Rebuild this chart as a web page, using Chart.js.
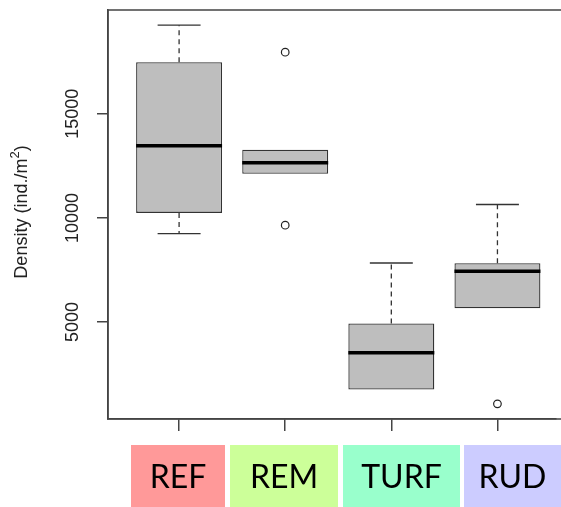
<!DOCTYPE html>
<html><head><meta charset="utf-8">
<script src="https://cdn.jsdelivr.net/npm/chart.js@4"></script>
<style>html,body{margin:0;padding:0;background:#fff;}#wrap{width:561px;height:507px;}</style>
</head><body><div id="wrap"><canvas id="c" width="561" height="507"></canvas></div>
<script>
const categories = ['REF', 'REM', 'TURF', 'RUD'];
const labelColors = ['#FF9999', '#CCFF99', '#99FFCC', '#CCCCFF'];
const whiskerLow = [9250, 12115, 1764, 5659];
const q1 = [10240, 12115, 1764, 5659];
const median = [13462, 12644, 3529, 7438];
const q3 = [17471, 13269, 4938, 7822];
const whiskerHigh = [19250, 13269, 7837, 10644];
const outliers = [[], [17952, 9649], [], [1077]];
const yTicks = [5000, 10000, 15000];
const yMin = 350, yMax = 19977;
const yTitleParts = ['Density (ind./m', '2', ')'];

const boxData = categories.map((c, i) => ({x: i + 1, y: [q1[i], q3[i]]}));
const outlierData = [];
outliers.forEach((arr, i) => arr.forEach(v => outlierData.push({x: i + 1, y: v})));

const AXIS = '#444';
const decor = {
  id: 'decor',
  afterDatasetsDraw(chart) {
    const ctx = chart.ctx, xs = chart.scales.x, ys = chart.scales.y;
    const boxMeta = chart.getDatasetMeta(0);
    ctx.save();
    categories.forEach((c, i) => {
      const bar = boxMeta.data[i];
      const cx = xs.getPixelForValue(i + 1);
      const half = bar.width / 2;
      ctx.strokeStyle = '#333'; ctx.lineWidth = 1.3;
      ctx.setLineDash([5, 4]);
      ctx.beginPath();
      if (whiskerHigh[i] > q3[i]) { ctx.moveTo(cx, ys.getPixelForValue(q3[i])); ctx.lineTo(cx, ys.getPixelForValue(whiskerHigh[i])); }
      if (whiskerLow[i] < q1[i]) { ctx.moveTo(cx, ys.getPixelForValue(q1[i])); ctx.lineTo(cx, ys.getPixelForValue(whiskerLow[i])); }
      ctx.stroke();
      ctx.setLineDash([]);
      ctx.beginPath();
      if (whiskerHigh[i] > q3[i]) { const y = ys.getPixelForValue(whiskerHigh[i]); ctx.moveTo(cx - half / 2, y); ctx.lineTo(cx + half / 2, y); }
      if (whiskerLow[i] < q1[i]) { const y = ys.getPixelForValue(whiskerLow[i]); ctx.moveTo(cx - half / 2, y); ctx.lineTo(cx + half / 2, y); }
      ctx.stroke();
      ctx.strokeStyle = '#000'; ctx.lineWidth = 3.5;
      ctx.beginPath();
      const my = ys.getPixelForValue(median[i]);
      ctx.moveTo(cx - half, my); ctx.lineTo(cx + half, my);
      ctx.stroke();
    });
    ctx.restore();
  },
  afterDraw(chart) {
    const ctx = chart.ctx, ys = chart.scales.y, a = chart.chartArea;
    ctx.save();
    ctx.strokeStyle = AXIS; ctx.lineWidth = 1.5;
    ctx.beginPath();
    ctx.moveTo(chart.width, a.top); ctx.lineTo(a.left, a.top); ctx.lineTo(a.left, a.bottom); ctx.lineTo(chart.width, a.bottom);
    ctx.stroke();
    ctx.fillStyle = '#222';
    ctx.font = '18px "Liberation Sans", Arial, sans-serif';
    ctx.textAlign = 'center'; ctx.textBaseline = 'middle';
    yTicks.forEach(v => {
      const y = ys.getPixelForValue(v);
      ctx.save(); ctx.translate(73, y); ctx.rotate(-Math.PI / 2);
      ctx.fillText(String(v), 0, 0); ctx.restore();
    });
    ctx.save(); ctx.translate(27, 212); ctx.rotate(-Math.PI / 2);
    const fMain = '18px "Liberation Sans", Arial, sans-serif', fSup = '13px "Liberation Sans", Arial, sans-serif';
    ctx.font = fMain; const w0 = ctx.measureText(yTitleParts[0]).width, w2 = ctx.measureText(yTitleParts[2]).width;
    ctx.font = fSup; const w1 = ctx.measureText(yTitleParts[1]).width;
    let x = -(w0 + w1 + w2) / 2;
    ctx.textAlign = 'left'; ctx.textBaseline = 'alphabetic';
    ctx.font = fMain; ctx.fillText(yTitleParts[0], x, 0); x += w0;
    ctx.font = fSup; ctx.fillText(yTitleParts[1], x, -8); x += w1;
    ctx.font = fMain; ctx.fillText(yTitleParts[2], x, 0);
    ctx.restore();
    const boxes = [[131, 225], [230, 338], [343, 460], [464, 561]];
    ctx.font = '32px Lato, "Open Sans", sans-serif';
    ctx.textAlign = 'center'; ctx.textBaseline = 'middle';
    categories.forEach((c, i) => {
      const [l, r] = boxes[i];
      ctx.fillStyle = labelColors[i];
      ctx.fillRect(l, 445, r - l, 62);
      ctx.fillStyle = '#000';
      ctx.fillText(c, (l + r) / 2, 478);
    });
    ctx.restore();
  }
};

new Chart(document.getElementById('c'), {
  data: {
    datasets: [
      {type: 'bar', data: boxData, backgroundColor: '#BEBEBE', borderColor: '#333', borderWidth: 1.3,
       borderSkipped: false, barPercentage: 0.81, categoryPercentage: 1},
      {type: 'scatter', data: outlierData, pointStyle: 'circle', pointRadius: 3.8,
       pointBackgroundColor: '#fff', pointBorderColor: '#222', pointBorderWidth: 1.2}
    ]
  },
  options: {
    responsive: false, animation: false,
    layout: {padding: {top: 10, right: 0, left: 0, bottom: 0}},
    plugins: {legend: {display: false}, tooltip: {enabled: false}},
    scales: {
      x: {type: 'linear', min: 0.33, max: 4.55, offset: false,
          afterBuildTicks: s => { s.ticks = categories.map((c, i) => ({value: i + 1})); },
          afterFit: s => { s.height = 88; },
          ticks: {callback: () => '', font: {size: 1}},
          grid: {offset: false, drawOnChartArea: false, drawTicks: true, tickLength: 12, color: AXIS, lineWidth: 1.5},
          border: {display: true, color: AXIS, width: 1.5}},
      y: {type: 'linear', min: yMin, max: yMax,
          afterBuildTicks: s => { s.ticks = yTicks.map(v => ({value: v})); },
          afterFit: s => { s.width = 108; },
          ticks: {callback: () => '', font: {size: 1}},
          grid: {drawOnChartArea: false, drawTicks: true, tickLength: 11, color: AXIS, lineWidth: 1.5},
          border: {display: true, color: AXIS, width: 1.5}}
    }
  },
  plugins: [decor]
});
</script></body></html>
